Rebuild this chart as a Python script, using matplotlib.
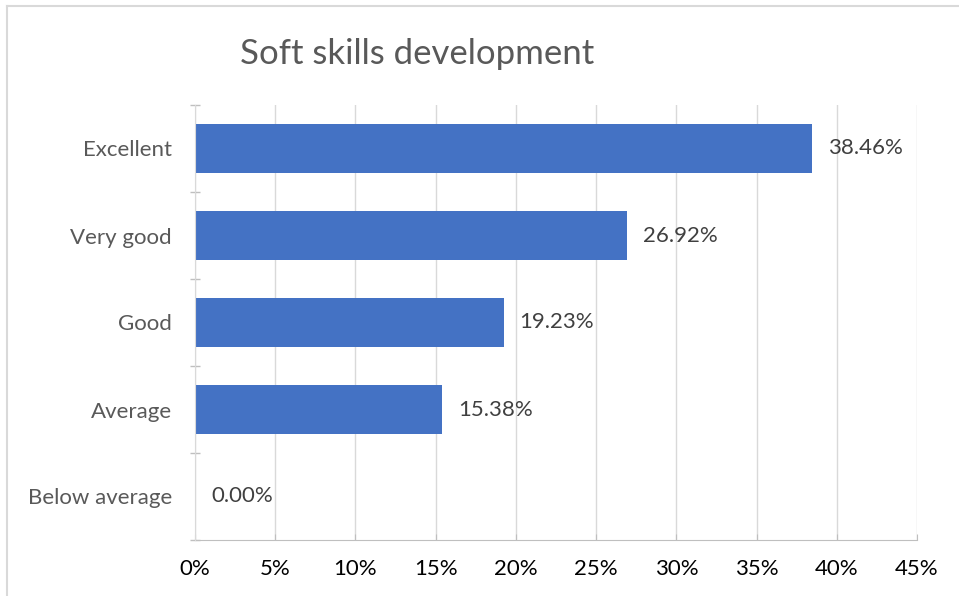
import matplotlib
matplotlib.use("Agg")
import matplotlib.pyplot as plt
from matplotlib.lines import Line2D
from matplotlib.ticker import FuncFormatter

categories = ["Excellent", "Very good", "Good", "Average", "Below average"]
values = [38.46, 26.92, 19.23, 15.38, 0.00]
x_ticks = [0, 5, 10, 15, 20, 25, 30, 35, 40, 45]
title = "Soft skills development"

plt.rcParams['font.family'] = ['Lato', 'DejaVu Sans']

W, H = 959, 596
fig = plt.figure(figsize=(W / 100, H / 100), dpi=100)
ax = fig.add_axes([195 / W, 1 - 540 / H, (917 - 195) / W, (540 - 105) / H])

n = len(categories)
ypos = list(range(n))
ax.barh(ypos, values, height=0.56, color="#4472C4", zorder=3)
ax.set_ylim(n - 0.5, -0.5)
ax.set_xlim(0, 45)
ax.set_xticks(x_ticks)
ax.xaxis.set_major_formatter(FuncFormatter(lambda v, p: f"{v:.0f}%"))
ax.set_yticks(ypos)
ax.set_yticklabels(categories)
ax.tick_params(axis='y', length=0, pad=16.5, labelsize=16, labelcolor="#595959")
ax.set_yticks([i - 0.5 for i in range(n + 1)], minor=True)
ax.tick_params(axis='y', which='minor', length=7, direction='inout', color="#BFBFBF", width=1)
ax.tick_params(axis='x', length=4, direction='in', color="#BFBFBF", pad=14,
               labelsize=16, labelcolor="#000000")
ax.grid(axis='x', color="#D9D9D9", linewidth=1, zorder=0)
for s in ['top', 'right']:
    ax.spines[s].set_visible(False)
ax.spines['left'].set_color("#D9D9D9")
ax.spines['bottom'].set_color("#BFBFBF")
ax.spines['left'].set_zorder(4)

for y, v in zip(ypos, values):
    ax.text(v + 1.0, y, f"{v:.2f}%", va='center', ha='left', fontsize=16, color="#404040")

fig.text(417 / W, 1 - 54 / H, title, ha='center', va='center', fontsize=25, color="#595959")

fig.add_artist(Line2D([7 / W, 7 / W], [0, 1 - 6 / H], color="#D9D9D9", lw=1.5))
fig.add_artist(Line2D([7 / W, 1], [1 - 6 / H, 1 - 6 / H], color="#D9D9D9", lw=1.5))

fig.savefig("out.png", dpi=100, facecolor="white")
